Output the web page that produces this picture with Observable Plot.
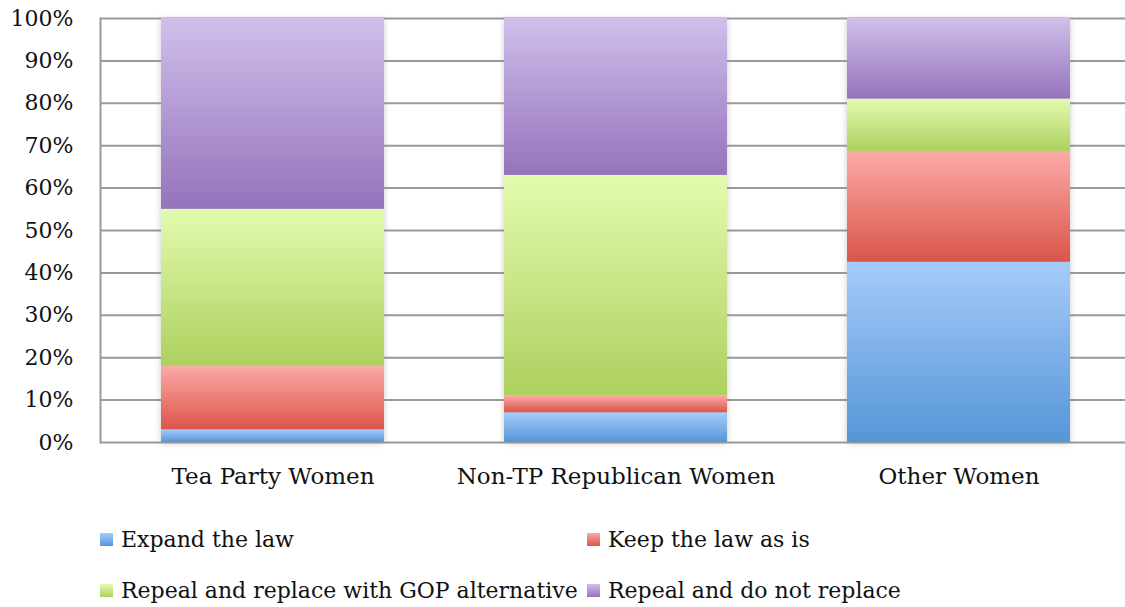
<!DOCTYPE html>
<html>
<head>
<meta charset="utf-8">
<script src="https://cdn.jsdelivr.net/npm/d3@7"></script>
<script src="https://cdn.jsdelivr.net/npm/@observablehq/plot@0.6"></script>
<style>
  html, body { margin: 0; padding: 0; background: #fff; }
  body { width: 1125px; height: 607px; overflow: hidden; font-family: "DejaVu Serif", serif; }
  #legend { position: relative; height: 107px; font-size: 22px; color: #111; }
  .item { position: absolute; display: flex; align-items: center; white-space: nowrap; }
  .sw { width: 13px; height: 13px; margin-right: 8px; }
</style>
</head>
<body>
<div id="chart"></div>
<div id="legend"></div>
<script>
const categories = ["Tea Party Women", "Non-TP Republican Women", "Other Women"];
const responses = ["Expand the law", "Keep the law as is", "Repeal and replace with GOP alternative", "Repeal and do not replace"];
const expandLaw = [3, 7, 42.5];
const keepLaw = [15, 4, 26];
const repealReplace = [37, 52, 12.5];
const repealOnly = [45, 37, 19];
const yTicks = [0, 10, 20, 30, 40, 50, 60, 70, 80, 90, 100];
const gradTop = ["#a6cbfa", "#fdaaa7", "#e3fbaf", "#d0bfeb"];
const gradBottom = ["#5596d8", "#d9554a", "#add05e", "#9473bb"];

const seriesValues = [expandLaw, keepLaw, repealReplace, repealOnly];
const data = [];
responses.forEach((r, i) => categories.forEach((c, j) => data.push({category: c, response: r, value: seriesValues[i][j]})));
const gradIds = responses.map((_, i) => `grad${i}`);

const svg = Plot.plot({
  width: 1125,
  height: 500,
  marginLeft: 100,
  marginRight: 0,
  marginTop: 18,
  marginBottom: 58,
  style: {fontFamily: "DejaVu Serif, serif", fontSize: "22px", color: "#111", background: "#fff"},
  x: {domain: categories, range: [100, 1130], paddingInner: 0.351, paddingOuter: 0.175, label: null},
  y: {domain: [0, 100], label: null},
  color: {domain: responses, range: gradIds.map(id => `url(#${id})`)},
  marks: [
    Plot.gridY(yTicks, {stroke: "#9a9a9a", strokeOpacity: 1, strokeWidth: 2}),
    Plot.frame({anchor: "left", stroke: "#9a9a9a", strokeWidth: 2}),
    Plot.barY(data, {x: "category", y: "value", fill: "response", order: responses}),
    Plot.axisY(yTicks, {tickSize: 0, tickPadding: 27, tickFormat: d => d + "%", fill: "#111"}),
    Plot.axisX({tickSize: 0, tickPadding: 25, fill: "#111", fontSize: 23})
  ]
});

const s = d3.select(svg);
const defs = s.insert("defs", ":first-child");
gradIds.forEach((id, i) => {
  const g = defs.append("linearGradient").attr("id", id).attr("x1", 0).attr("y1", 0).attr("x2", 0).attr("y2", 1);
  g.append("stop").attr("offset", "0%").attr("stop-color", gradTop[i]);
  g.append("stop").attr("offset", "100%").attr("stop-color", gradBottom[i]);
});
const f = defs.append("filter").attr("id", "shadow").attr("x", "-10%").attr("y", "-10%").attr("width", "120%").attr("height", "120%");
f.append("feDropShadow").attr("dx", 0).attr("dy", 1).attr("stdDeviation", 3).attr("flood-color", "#888").attr("flood-opacity", 0.45);
s.selectAll("g[aria-label='bar']").attr("filter", "url(#shadow)");

document.getElementById("chart").appendChild(svg);

const legend = d3.select("#legend");
const pos = [[100, 39], [587, 39], [100, 90], [587, 90]];
responses.forEach((r, i) => {
  const it = legend.append("div").attr("class", "item")
    .style("left", pos[i][0] + "px").style("top", (pos[i][1] - 15) + "px").style("height", "30px");
  it.append("div").attr("class", "sw").style("background", `linear-gradient(${gradTop[i]}, ${gradBottom[i]})`);
  it.append("span").text(r);
});
</script>
</body>
</html>
